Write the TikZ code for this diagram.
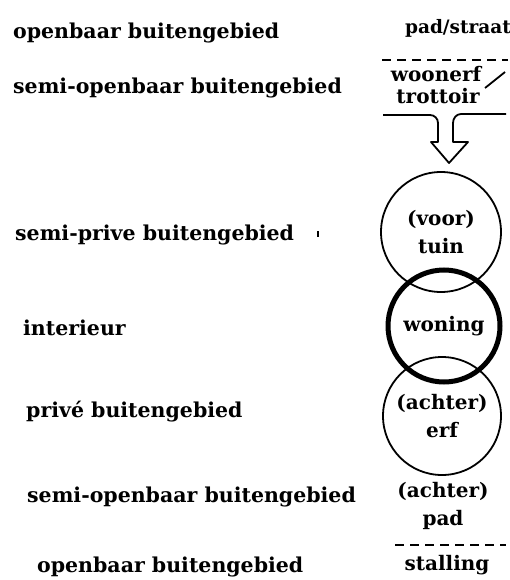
\documentclass[tikz,border=0pt]{standalone}
\usepackage{fontspec}
\setmainfont{DejaVu Serif}
\usetikzlibrary{positioning}
\tikzset{
  zone/.style={font=\bfseries\fontsize{20.5}{22}\selectfont, anchor=west, inner sep=0pt},
  place/.style={font=\bfseries\fontsize{20}{28}\selectfont, align=center, inner sep=0pt},
  ring/.style={circle, draw, line width=1.8pt, inner sep=0pt, font=\bfseries\fontsize{20}{28}\selectfont, align=center},
  divider/.style={line width=1.8pt, dash pattern=on 9pt off 6pt}
}
\begin{document}
\begin{tikzpicture}[x=1pt, y=-1pt]
\useasboundingbox (0,0) rectangle (510,580);

% zones on the left
\node[zone] (openvoor) at (13,33) {openbaar buitengebied};
\node[zone] (semivoor) at (13,88) {semi-openbaar buitengebied};
\node[zone] (semiprive) at (15,235) {semi-prive buitengebied};
\node[zone] (interieur) at (23,328) {interieur};
\node[zone] (prive) at (26,412) {privé buitengebied};
\node[zone] (semiachter) at (27,497) {semi-openbaar buitengebied};
\node[zone] (openachter) at (37,567) {openbaar buitengebied};
\draw[line width=1.5pt] (318,231) -- (318,237);

% front: street and sidewalk
\node[place, font=\bfseries\fontsize{18.5}{28}\selectfont] (straat) at (458,28) {pad/straat};
\draw[divider] (382,60) -- (508,60);
\node[place] (woonerf) at (436,74) {woonerf};
\node[place] (trottoir) at (438,96) {trottoir};
\draw[line width=1.8pt] (485,88) -- (505,72);

% entrance arrow
\draw[line width=1.8pt, line join=round]
  (383,115) -- (430,115) to[out=0,in=90] (438,123) -- (438,142)
  -- (431,142) -- (449,163) -- (468,142) -- (453,142) -- (453,123)
  to[out=90,in=180] (461,114) -- (506,114);

% circles
\node[ring, minimum size=120pt] (tuin) at (441,232) {(voor)\\tuin};
\node[ring, minimum size=118pt] (erf) at (442,416) {(achter)\\erf};
\node[ring, minimum size=112pt, line width=5pt] (woning) at (444,326) {woning};

% back: path and storage
\node[place] (achterpad) at (443,506) {(achter)\\pad};
\draw[divider] (395,545) -- (506,545);
\node[place] (stalling) at (447,565) {stalling};
\end{tikzpicture}
\end{document}
